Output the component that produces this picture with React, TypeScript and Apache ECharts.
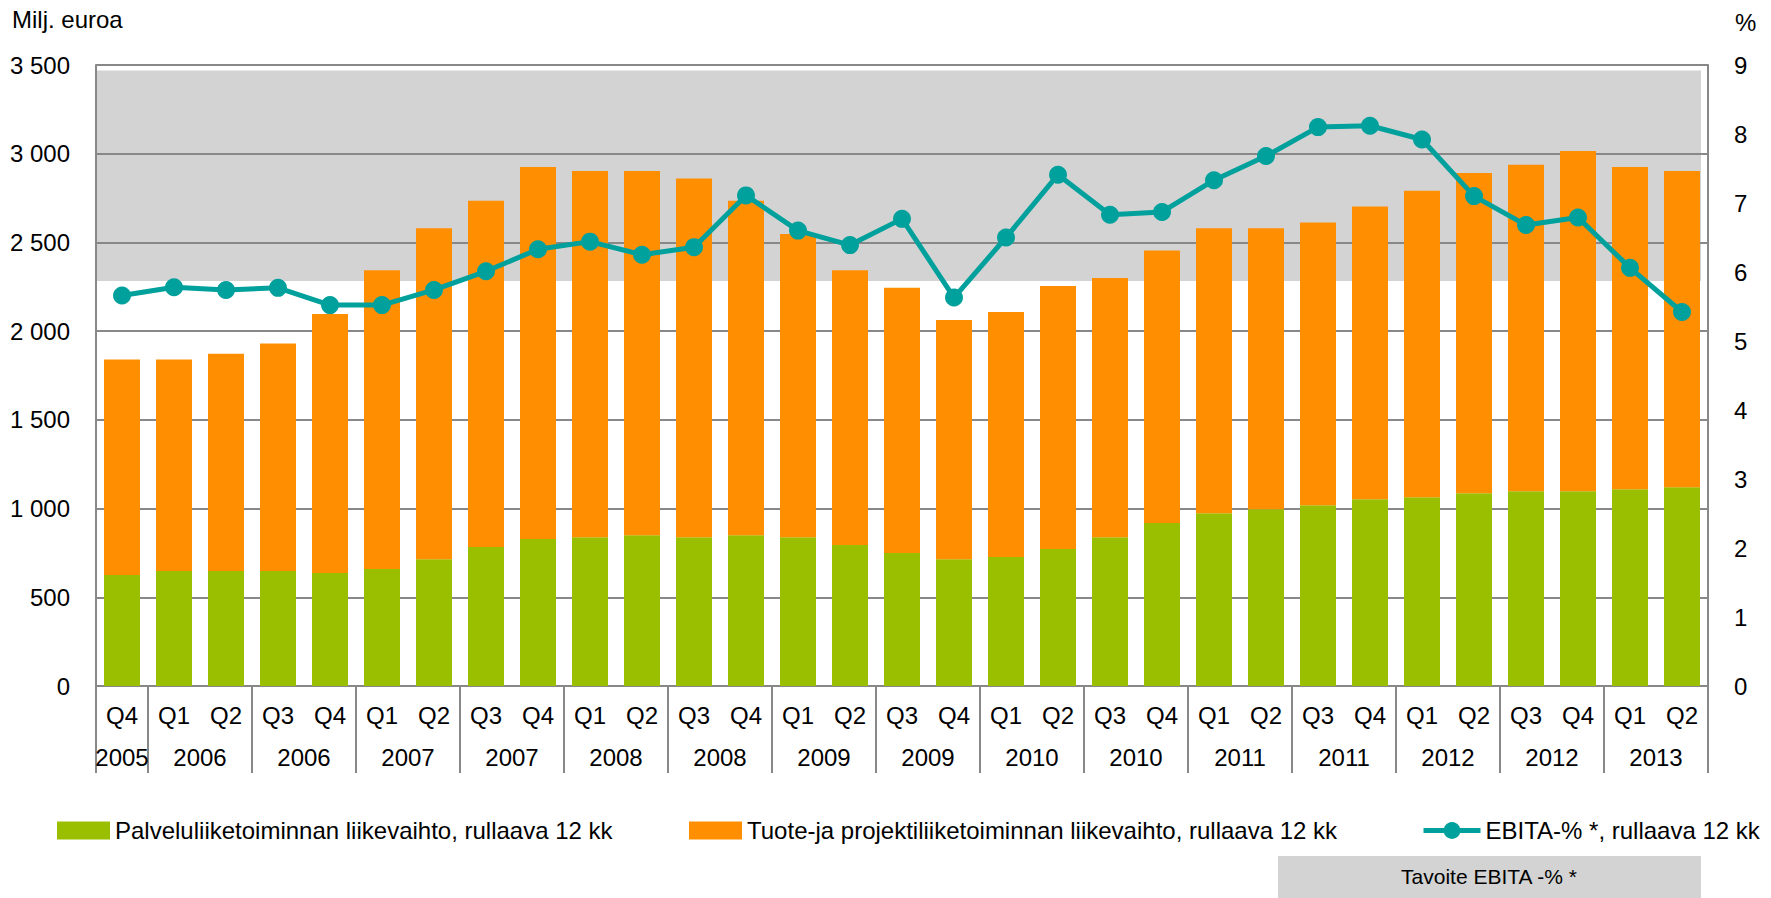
import React, { useEffect, useRef } from "react";
import * as echarts from "echarts";

const quarters: string[] = [
  "Q4",
  "Q1", "Q2", "Q3", "Q4",
  "Q1", "Q2", "Q3", "Q4",
  "Q1", "Q2", "Q3", "Q4",
  "Q1", "Q2", "Q3", "Q4",
  "Q1", "Q2", "Q3", "Q4",
  "Q1", "Q2", "Q3", "Q4",
  "Q1", "Q2", "Q3", "Q4",
  "Q1", "Q2",
];
const years: string[] = [
  "2005",
  "2006", "2006", "2006", "2006",
  "2007", "2007", "2007", "2007",
  "2008", "2008", "2008", "2008",
  "2009", "2009", "2009", "2009",
  "2010", "2010", "2010", "2010",
  "2011", "2011", "2011", "2011",
  "2012", "2012", "2012", "2012",
  "2013", "2013",
];
// Palveluliiketoiminta (green), milj. euroa
const serviceRevenue: number[] = [
  626, 648, 648, 648, 637, 659, 715, 783, 828, 839, 850, 839, 850, 839, 794, 749,
  715, 727, 772, 839, 918, 974, 996, 1019, 1053, 1064, 1086, 1098, 1098, 1109, 1120,
];
// Tuote- ja projektiliiketoiminta (orange), milj. euroa
const productRevenue: number[] = [
  1214, 1192, 1224, 1282, 1460, 1684, 1865, 1952, 2097, 2064, 2053, 2021, 1885, 1709, 1549, 1495,
  1348, 1381, 1482, 1461, 1537, 1606, 1584, 1593, 1650, 1727, 1806, 1840, 1917, 1816, 1783,
];
// EBITA-%, rullaava 12 kk
const ebitaPct: number[] = [
  5.66, 5.78, 5.74, 5.77, 5.52, 5.52, 5.74, 6.01, 6.33, 6.44, 6.25, 6.36, 7.11, 6.6, 6.39, 6.77,
  5.63, 6.5, 7.41, 6.83, 6.87, 7.33, 7.68, 8.1, 8.12, 7.92, 7.1, 6.68, 6.79, 6.06, 5.42,
];
// Tavoite EBITA-% band (on % axis)
const targetBand: number[] = [5.87, 8.92];

const seriesNames: string[] = [
  "Palveluliiketoiminnan liikevaihto, rullaava 12 kk",
  "Tuote-ja projektiliiketoiminnan liikevaihto, rullaava 12 kk",
  "EBITA-% *, rullaava 12 kk",
];

const FONT = "'Liberation Sans', Arial, sans-serif";
const GREEN = "#99BF00";
const ORANGE = "#FF8F00";
const TEAL = "#00A19C";
const BAND = "#D3D3D3";
const GRIDC = "#888888";

function fmtThousands(v: number): string {
  if (v >= 1000) {
    const t = Math.floor(v / 1000);
    const r = String(v % 1000).padStart(3, "0");
    return t + " " + r;
  }
  return String(v);
}

export default function App() {
  const ref = useRef<HTMLDivElement>(null);

  useEffect(() => {
    if (!ref.current) return;
    const chart = echarts.init(ref.current, null, { renderer: "svg" });
    const textStyle = { fontFamily: FONT, fontSize: 24, color: "#000" };
    const option: any = {
      animation: false,
      grid: { left: 96, right: 63, top: 65, bottom: 212, containLabel: false },
      legend: [
        {
          data: [seriesNames[0]], left: 57, top: 818.5, padding: 0, icon: "rect",
          itemWidth: 53, itemHeight: 18, textStyle, selectedMode: false,
        },
        {
          data: [seriesNames[1]], left: 689, top: 818.5, padding: 0, icon: "rect",
          itemWidth: 53, itemHeight: 18, textStyle, selectedMode: false,
        },
        {
          data: [seriesNames[2]], left: 1421, top: 818.5, padding: 0,
          itemWidth: 57, itemHeight: 21, textStyle, selectedMode: false,
          lineStyle: { width: 5, color: TEAL },
        },
      ],
      xAxis: [
        {
          type: "category",
          data: quarters,
          position: "bottom",
          axisLine: { show: true, lineStyle: { color: GRIDC, width: 2 } },
          axisTick: {
            show: true,
            length: 87,
            interval: (i: number) => i === 0 || i % 2 === 1,
            lineStyle: { color: GRIDC, width: 2 },
          },
          axisLabel: { interval: 0, margin: 17, ...textStyle },
          splitLine: { show: false },
          z: 1.5,
        },
        {
          type: "category",
          data: years,
          position: "bottom",
          axisLine: { show: false },
          axisTick: { show: false },
          axisLabel: {
            interval: 0,
            margin: 59,
            ...textStyle,
            formatter: (v: string, i: number) => {
              if (i === 0) return v;
              if (i % 2 === 1) return "{s|" + v + "}";
              return "";
            },
            rich: {
              s: { ...textStyle, padding: [0, 0, 0, 52] },
            },
          },
          splitLine: { show: false },
          z: 1.5,
        },
      ],
      yAxis: [
        {
          type: "value",
          min: 0,
          max: 3500,
          interval: 500,
          axisLine: { show: true, lineStyle: { color: GRIDC, width: 2 } },
          axisTick: { show: false },
          axisLabel: { margin: 26, ...textStyle, formatter: (v: number) => fmtThousands(v) },
          splitLine: { show: true, lineStyle: { color: GRIDC, width: 2 } },
          z: 1.5,
        },
        {
          type: "value",
          min: 0,
          max: 9,
          interval: 1,
          position: "right",
          axisLine: { show: true, lineStyle: { color: GRIDC, width: 2 } },
          axisTick: { show: false },
          axisLabel: { margin: 26, ...textStyle },
          splitLine: { show: false },
          z: 1.5,
        },
      ],
      series: [
        {
          name: seriesNames[0],
          type: "bar",
          stack: "rev",
          data: serviceRevenue,
          barWidth: 36,
          itemStyle: { color: GREEN },
          silent: true,
          z: 2,
        },
        {
          name: seriesNames[1],
          type: "bar",
          stack: "rev",
          data: productRevenue,
          barWidth: 36,
          itemStyle: { color: ORANGE },
          silent: true,
          z: 2,
        },
        {
          name: seriesNames[2],
          type: "line",
          yAxisIndex: 1,
          data: ebitaPct,
          symbol: "circle",
          symbolSize: 18,
          lineStyle: { color: TEAL, width: 5 },
          itemStyle: { color: TEAL },
          silent: true,
          z: 3,
        },
      ],
    };
    chart.setOption(option);

    const yTop = chart.convertToPixel({ yAxisIndex: 1 }, targetBand[1]) as number;
    const yBot = chart.convertToPixel({ yAxisIndex: 1 }, targetBand[0]) as number;
    chart.setOption({
      graphic: [
        {
          type: "rect",
          id: "band",
          z: 0,
          silent: true,
          shape: { x: 97, y: yTop, width: 1701 - 97, height: yBot - yTop },
          style: { fill: BAND },
        },
        {
          type: "text",
          id: "unitL",
          left: 12,
          top: 7,
          style: { text: "Milj. euroa", font: `24px ${FONT}`, fill: "#000" },
        },
        {
          type: "text",
          id: "unitR",
          left: 1735,
          top: 10,
          style: { text: "%", font: `24px ${FONT}`, fill: "#000" },
        },
        {
          type: "rect",
          id: "targetBox",
          shape: { x: 1278, y: 856, width: 423, height: 42 },
          style: { fill: BAND },
        },
        {
          type: "text",
          id: "targetText",
          x: 1489,
          y: 876,
          style: {
            text: "Tavoite EBITA -% *",
            font: `21px ${FONT}`,
            fill: "#000",
            align: "center",
            verticalAlign: "middle",
          },
        },
      ],
    });

    return () => chart.dispose();
  }, []);

  return (
    <div
      ref={ref}
      style={{ position: "fixed", left: 0, top: 0, width: "1771px", height: "898px", background: "#fff" }}
    />
  );
}
